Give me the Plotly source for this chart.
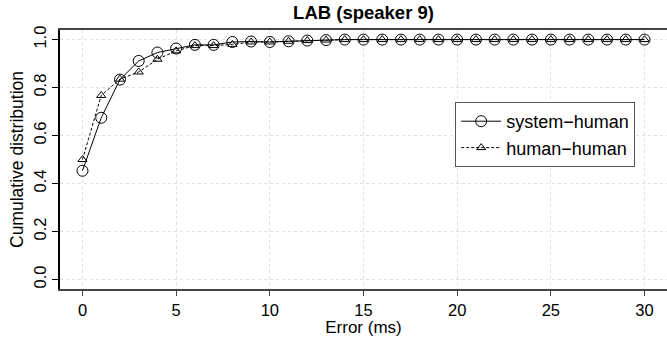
import plotly.graph_objects as go

error_ms = list(range(0, 31))
system_human = [0.453, 0.674, 0.833, 0.911, 0.946, 0.963, 0.978, 0.978, 0.990, 0.992,
                0.990, 0.993, 0.996, 0.998, 1.0, 1.0, 1.0, 1.0, 1.0, 1.0,
                1.0, 1.0, 1.0, 1.0, 1.0, 1.0, 1.0, 1.0, 1.0, 1.0, 1.0]
human_human = [0.500, 0.767, 0.835, 0.865, 0.918, 0.953, 0.975, 0.975, 0.980, 0.990,
               0.990, 0.993, 0.996, 0.998, 1.0, 1.0, 1.0, 1.0, 1.0, 1.0,
               1.0, 1.0, 1.0, 1.0, 1.0, 1.0, 1.0, 1.0, 1.0, 1.0, 1.0]
x_ticks = [0, 5, 10, 15, 20, 25, 30]
y_ticks = [0.0, 0.2, 0.4, 0.6, 0.8, 1.0]
y_tick_labels = ["0.0", "0.2", "0.4", "0.6", "0.8", "1.0"]

FONT = "Liberation Sans, Arial, Helvetica, sans-serif"

fig = go.Figure()
fig.add_trace(go.Scatter(
    x=error_ms, y=system_human, name="system\u2212human", mode="lines+markers",
    line=dict(color="black", width=1),
    marker=dict(symbol="circle-open", size=11, color="black", line=dict(width=1)),
))
fig.add_trace(go.Scatter(
    x=error_ms, y=human_human, name="human\u2212human", mode="lines+markers",
    line=dict(color="black", width=1, dash="3px,2px"),
    marker=dict(symbol="triangle-up-open", size=8, color="black", line=dict(width=1)),
))

fig.update_layout(
    width=667, height=337,
    margin=dict(l=60, r=0, t=30, b=48),
    paper_bgcolor="white", plot_bgcolor="white",
    font=dict(family=FONT, color="black", size=17),
    title=dict(text="<b>LAB (speaker 9)</b>", x=0.545, xanchor="center",
               y=0.962, yanchor="middle", font=dict(size=18.5, family=FONT)),
    showlegend=True,
    legend=dict(x=0.651, y=0.722, xanchor="left", yanchor="top",
                bordercolor="#555", borderwidth=1, bgcolor="white",
                font=dict(size=18, family=FONT), tracegroupgap=0,
                itemwidth=40),
)
fig.update_xaxes(
    range=[-1.2, 31.2], tickvals=x_ticks, showline=True, linecolor="#444",
    linewidth=1.5, mirror=True, ticks="outside", ticklen=5, tickcolor="#444",
    showgrid=True, gridcolor="#e0e0e0", griddash="dot", gridwidth=1,
    zeroline=False, tickfont=dict(size=16.5),
    title=dict(text="Error (ms)", standoff=6, font=dict(size=17)),
)
fig.update_yaxes(
    range=[-0.04, 1.04], tickvals=y_ticks, ticktext=y_tick_labels, tickangle=-90,
    showline=True, linecolor="black", linewidth=1.5, mirror=False,
    ticks="outside", ticklen=6, tickcolor="black",
    showgrid=True, gridcolor="#e0e0e0", griddash="dot", gridwidth=1,
    zeroline=False, tickfont=dict(size=16.5),
    title=dict(text="Cumulative distribution", standoff=3, font=dict(size=17.5)),
)

fig.write_html("out.html", config={"displayModeBar": False},
               post_script="document.body.style.margin='0';document.body.style.overflow='hidden';")
